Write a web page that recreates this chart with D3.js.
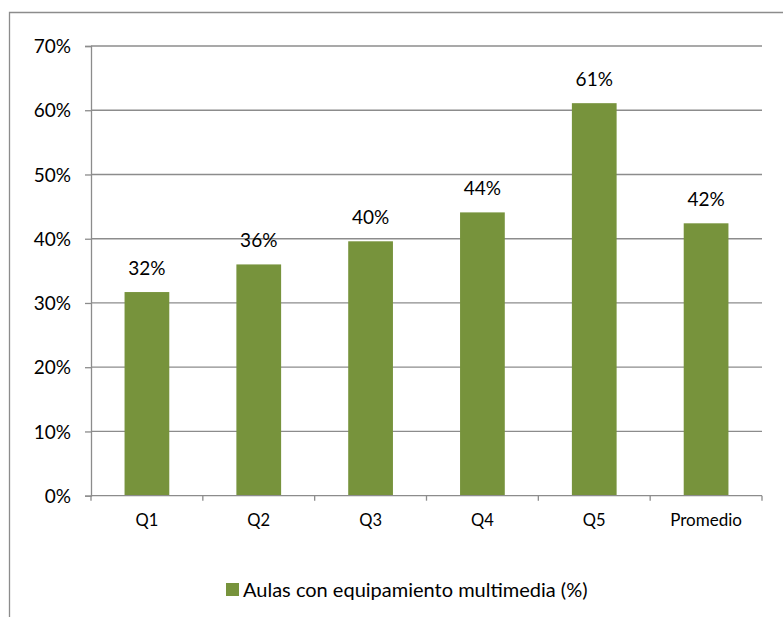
<!DOCTYPE html>
<html><head><meta charset="utf-8">
<script src="https://cdn.jsdelivr.net/npm/d3@7/dist/d3.min.js"></script>
<style>body{margin:0;background:#fff}text{font-family:Lato,"Open Sans",sans-serif;fill:#000}</style>
</head><body><svg id="c" width="783" height="617"></svg>
<script>
const categories = ["Q1","Q2","Q3","Q4","Q5","Promedio"];
const values = [31.7, 36.0, 39.6, 44.1, 61.1, 42.4];
const yTicks = [0,10,20,30,40,50,60,70];
const seriesName = "Aulas con equipamiento multimedia (%)";

const svg = d3.select("#c");
const M = {l:91, r:762, t:46, b:495.7};
const x = d3.scaleBand().domain(categories).range([M.l, M.r]).paddingInner(0.6).paddingOuter(0.3);
const y = d3.scaleLinear().domain([0,70]).range([M.b, M.t]);
const grey = "#8c8c8c", green = "#77933C";

// frame
svg.append("path").attr("d","M9.5,617V12.5H783").attr("fill","none").attr("stroke",grey).attr("stroke-width",1.3);

// gridlines
svg.append("g").selectAll("line").data(yTicks.filter(d=>d>0)).join("line")
  .attr("x1",M.l).attr("x2",M.r).attr("y1",d=>y(d)).attr("y2",d=>y(d))
  .attr("stroke",grey).attr("stroke-width",1.3);

// y axis
const ya = svg.append("g").attr("transform",`translate(${M.l},0)`)
  .call(d3.axisLeft(y).tickValues(yTicks).tickFormat(d=>d+"%").tickSize(6).tickPadding(14));
ya.select(".domain").attr("stroke",grey).attr("stroke-width",1.3);
ya.selectAll(".tick line").attr("stroke",grey).attr("stroke-width",1.3);
ya.selectAll(".tick text").attr("font-size",19).attr("font-family","Lato").attr("dy","0.35em");

// bars
svg.append("g").selectAll("rect").data(values).join("rect")
  .attr("x",(d,i)=>x(categories[i])).attr("width",x.bandwidth())
  .attr("y",d=>y(d)).attr("height",d=>y(0)-y(d)).attr("fill",green);

// x axis
const bounds = d3.range(categories.length+1).map(i=>M.l + i*(M.r-M.l)/categories.length);
svg.append("line").attr("x1",M.l).attr("x2",M.r).attr("y1",M.b).attr("y2",M.b).attr("stroke",grey).attr("stroke-width",1.3);
svg.append("g").selectAll("line").data(bounds).join("line")
  .attr("x1",d=>d).attr("x2",d=>d).attr("y1",M.b).attr("y2",M.b+5).attr("stroke",grey).attr("stroke-width",1.3);
svg.append("g").selectAll("text").data(categories).join("text")
  .attr("x",d=>x(d)+x.bandwidth()/2).attr("y",M.b+30).attr("text-anchor","middle")
  .attr("font-size",d=>d==="Promedio"?17:16.5).text(d=>d);

// labels
svg.append("g").selectAll("text").data(values).join("text")
  .attr("x",(d,i)=>x(categories[i])+x.bandwidth()/2).attr("y",d=>y(d)-17.5)
  .attr("text-anchor","middle").attr("font-size",19).text(d=>Math.round(d)+"%");

// legend
svg.append("rect").attr("x",226).attr("y",583).attr("width",13).attr("height",13).attr("fill",green);
svg.append("text").attr("x",243).attr("y",596.5).attr("font-size",20).text(seriesName);
</script></body></html>
